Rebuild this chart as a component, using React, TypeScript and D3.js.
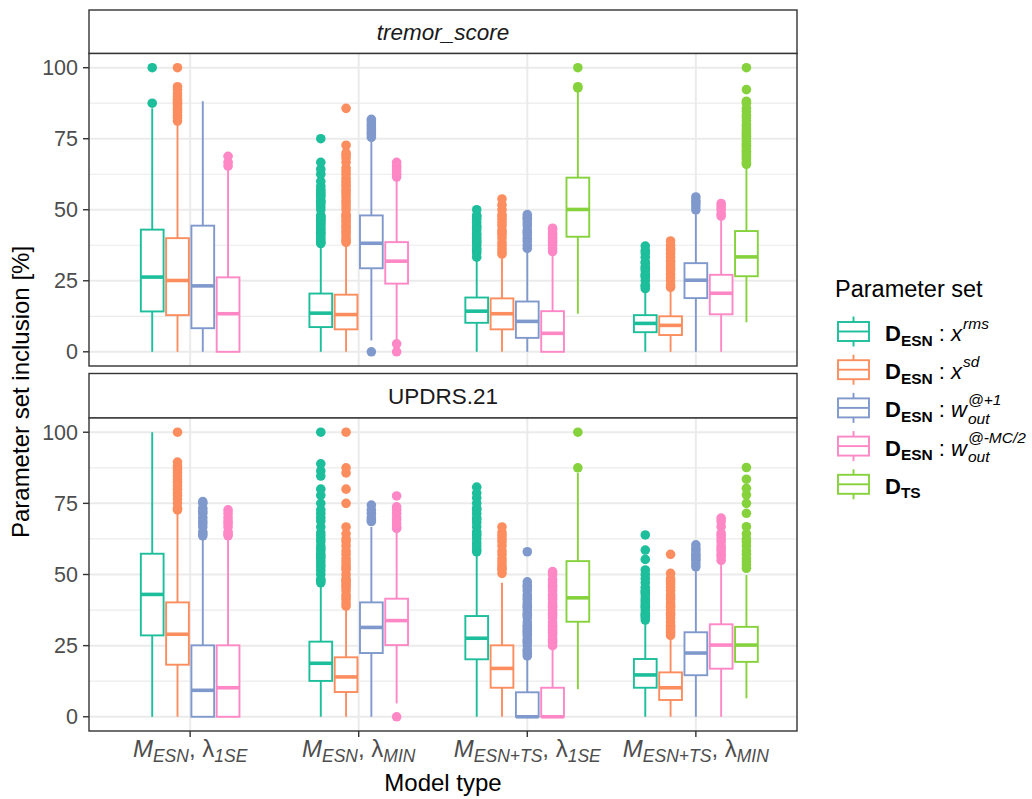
import React from "react";
import * as d3 from "d3";

// ---------- data ----------
const categoryIds = [0, 1, 2, 3];
const categoryLabels = [
  { m: "ESN", l: "1SE" },
  { m: "ESN", l: "MIN" },
  { m: "ESN+TS", l: "1SE" },
  { m: "ESN+TS", l: "MIN" },
];
const seriesColors = ["#1DBE9B", "#FC8D5E", "#8099CC", "#FE87C6", "#86D23D"];
const seriesSup = ["rms", "sd", "@+1", "@-MC/2", ""];
const yMajorTicks = [0, 25, 50, 75, 100];
const yMinorTicks = [12.5, 37.5, 62.5, 87.5];
const panelTitles = ["tremor_score", "UPDRS.21"];

// [category, series, lowWhisker, q1, median, q3, highWhisker]
const tremorStats = [
  [0, 0, 0, 14.2, 26.3, 43.0, 85.7],
  [0, 1, 0, 12.9, 25.1, 40.0, 80.0],
  [0, 2, 0, 8.3, 23.2, 44.4, 88.2],
  [0, 3, 0, 0, 13.4, 26.2, 64.3],
  [1, 0, 0, 8.7, 13.6, 20.5, 37.5],
  [1, 1, 0, 7.9, 13.1, 20.1, 38.0],
  [1, 2, 4.0, 29.4, 38.2, 48.0, 74.7],
  [1, 3, 4.3, 24.0, 31.9, 38.6, 60.5],
  [2, 0, 0, 10.2, 14.3, 19.1, 32.5],
  [2, 1, 0, 7.9, 13.4, 18.8, 33.3],
  [2, 2, 0, 4.9, 10.7, 17.7, 35.0],
  [2, 3, 0, 0, 6.5, 14.3, 34.3],
  [2, 4, 13.4, 40.5, 50.1, 61.3, 92.3],
  [3, 0, 0, 6.9, 10.0, 12.9, 21.4],
  [3, 1, 0, 5.9, 9.3, 12.5, 22.2],
  [3, 2, 0, 18.9, 25.2, 31.2, 49.5],
  [3, 3, 0, 13.2, 20.6, 27.1, 47.4],
  [3, 4, 10.4, 26.6, 33.4, 42.5, 65.5],
];
const tremorOutliers = [
  [87.5, 100],
  [81.2, 82.4, 83.3, 84.2, 85.0, 85.7, 86.7, 87.5, 88.2, 88.9, 90.0, 90.9, 92.3, 93.3, 100],
  [],
  [65.4, 66.7, 68.8],
  [38.1, 38.5, 39.1, 40, 40.9, 41.7, 42.1, 42.9, 43.5, 44.4, 45, 45.5, 46.2, 46.7, 47.1, 47.6, 48, 50, 51.1, 52.2, 52.9, 53.3, 54.5, 55, 55.6, 56.3, 57.1, 58.3, 60, 62.5, 64.3, 66.7, 75],
  [38.5, 39.1, 40, 41.2, 42.1, 42.9, 43.8, 44.4, 45.5, 46.2, 47.1, 47.8, 48.4, 50, 51.3, 52.4, 53.3, 54.5, 55.6, 56.3, 57.1, 58.3, 59.1, 60, 61.1, 62.5, 63.6, 64.7, 66.7, 68.2, 69.2, 70, 72.7, 85.7],
  [0, 75.5, 76.5, 77.3, 78.3, 79.2, 80, 81, 81.8],
  [0, 2.8, 61.5, 62.5, 63.6, 64.7, 65.5, 66.7],
  [33.3, 34.8, 35.7, 36.4, 37.5, 38.5, 39.1, 40, 40.9, 41.7, 42.9, 43.8, 44.4, 45.5, 46.7, 47.6, 48, 50],
  [34.4, 35.3, 36.4, 37.5, 38.5, 40, 41.2, 42.1, 42.9, 44.4, 45.5, 46.7, 47.6, 48.3, 50, 51.7, 53.8],
  [36.4, 37.5, 38.9, 40, 41.2, 42.1, 42.9, 44.4, 45.5, 46.7, 47.4, 48.3],
  [35.3, 36.4, 37.5, 38.5, 39.1, 40, 40.9, 41.7, 42.9, 43.5],
  [92.9, 93.3, 100],
  [22.2, 23.1, 23.5, 25, 26.3, 26.7, 27.3, 28.6, 29.4, 30, 31.3, 31.6, 33.3, 34.8, 35.7, 37.2],
  [22.7, 23.5, 25, 26.1, 27.3, 28.6, 29.4, 30.4, 31.6, 32.1, 33.3, 34.6, 35.7, 36.4, 37.5, 39.0],
  [50, 51.3, 52.4, 53.3, 54.5],
  [47.8, 48.5, 50, 51.1, 52.2],
  [66.0, 66.7, 67.6, 68.4, 69.2, 70, 70.6, 71.4, 72.2, 72.7, 73.3, 74.1, 75, 75.9, 76.5, 77.3, 78.3, 79.2, 80, 81.3, 82.4, 83.3, 84.6, 85.7, 87.5, 88.2, 92.3, 100],
];

const updrsStats = [
  [0, 0, 0, 28.6, 43.0, 57.3, 100],
  [0, 1, 0, 18.3, 29.0, 40.2, 72.2],
  [0, 2, 0, 0, 9.3, 25.1, 62.5],
  [0, 3, 0, 0, 10.2, 25.1, 62.5],
  [1, 0, 0, 12.6, 18.8, 26.4, 46.7],
  [1, 1, 0, 8.7, 14.0, 20.9, 38.5],
  [1, 2, 0, 22.4, 31.4, 40.2, 66.7],
  [1, 3, 4.7, 25.2, 33.8, 41.5, 65.5],
  [2, 0, 0, 20.2, 27.6, 35.4, 57.1],
  [2, 1, 0, 10.2, 17.0, 25.1, 47.1],
  [2, 2, 0, 0, 0, 8.6, 20.0],
  [2, 3, 0, 0, 0, 10.2, 24.0],
  [2, 4, 9.7, 33.4, 41.8, 54.7, 85.7],
  [3, 0, 0, 10.2, 14.7, 20.3, 33.3],
  [3, 1, 0, 5.9, 10.2, 15.6, 28.0],
  [3, 2, 0, 14.6, 22.4, 29.7, 51.5],
  [3, 3, 0, 16.9, 25.2, 32.5, 54.0],
  [3, 4, 6.5, 19.3, 25.2, 31.6, 49.8],
];
const updrsOutliers = [
  [],
  [72.7, 73.3, 75, 76.5, 77.8, 78.6, 80, 81.3, 82.4, 83.3, 84.6, 85.7, 86.7, 87.5, 88.2, 89.5, 100],
  [63.6, 64.3, 65, 66.7, 67.9, 68.8, 70, 71.4, 72.2, 73.3, 75, 75.6],
  [63.6, 64.3, 65, 66.7, 67.9, 68.8, 70, 71.4, 72.7],
  [47.1, 47.8, 48.3, 50, 51.4, 52.6, 53.3, 54.5, 55.6, 56.3, 57.1, 58.3, 59.1, 60, 61.5, 62.5, 63.6, 64.7, 66.7, 68.8, 70, 71.4, 72.7, 75, 77.8, 80, 84.6, 86.4, 88.9, 100],
  [38.9, 40, 41.2, 42.1, 42.9, 44.4, 45.5, 46.2, 47.1, 47.8, 48.5, 50, 51.7, 52.4, 53.3, 54.5, 55.6, 57.1, 58.3, 60, 61.5, 62.5, 64.3, 66.7, 75, 80, 85.7, 87.5, 100],
  [68.6, 69.2, 70, 71.4, 72.7, 74.4],
  [0, 66.2, 66.7, 67.9, 69.2, 70, 71.4, 72.7, 73.8, 77.6],
  [58.0, 58.8, 60, 61.1, 62.5, 63.6, 64.3, 65, 66.7, 68.2, 69.2, 70, 71.4, 72.7, 73.3, 75, 76.9, 78.6, 80.7],
  [50.4, 51.7, 52.4, 53.3, 54.5, 55.6, 57.1, 58.3, 60, 61.5, 62.5, 63.6, 64.7, 66.7],
  [21.4, 22.2, 23.1, 23.5, 25, 26.1, 26.7, 27.3, 28.6, 29.4, 30, 30.8, 31.6, 32.1, 33.3, 34.8, 35.7, 36.4, 37.5, 38.5, 39.1, 40, 41.2, 42.1, 42.9, 44.4, 45.5, 46.2, 47.4, 58.0],
  [25, 26.1, 26.7, 27.3, 28.6, 29.4, 30, 30.8, 31.6, 32.1, 33.3, 34.8, 35.7, 36.4, 37.5, 38.5, 39.1, 40, 41.2, 42.1, 42.9, 44.4, 45.5, 46.2, 47.4, 48.3, 50, 51.0],
  [87.5, 100],
  [34.0, 35.0, 35.7, 36.4, 37.5, 38.5, 39.1, 40, 40.9, 41.7, 42.9, 43.8, 44.4, 45.5, 47.1, 48.5, 50, 51.6, 55.3, 58.6, 63.9],
  [28.6, 29.4, 30, 30.8, 31.6, 32.1, 33.3, 34.6, 35.7, 36.4, 37.5, 38.5, 39.1, 40, 41.2, 42.1, 42.9, 44.4, 45.5, 46.7, 47.6, 48.5, 50.4, 57.1],
  [52.7, 53.8, 55, 55.6, 56.5, 57.1, 58.3, 59.1, 60.4],
  [55, 56.3, 57.1, 58.3, 59.1, 60, 61.5, 62.5, 63.6, 64.5, 66.8, 68.6, 69.8],
  [52.2, 53.3, 54.5, 55.6, 57.1, 58.3, 60, 61.5, 62.5, 64.3, 66.8, 71.5, 75, 78, 80.3, 83.5, 87.6],
];

// ---------- layout ----------
const FONT = '"Liberation Sans", Arial, Helvetica, sans-serif';
const PL = 89;
const PR = 797;
const panelGeom = [
  { stripTop: 10, top: 53.5, bottom: 366 },
  { stripTop: 373.5, top: 418, bottom: 731 },
];

let _ctx: CanvasRenderingContext2D | null = null;
function tw(text: string, size: number, weight = "normal", style = "normal") {
  if (!_ctx) _ctx = document.createElement("canvas").getContext("2d");
  if (!_ctx) return text.length * size * 0.55;
  _ctx.font = `${style} ${weight} ${size}px "Liberation Sans"`;
  return _ctx.measureText(text).width;
}

function Panel({ idx, stats, outliers }: { idx: number; stats: number[][]; outliers: number[][] }) {
  const g = panelGeom[idx];
  const x = d3.scalePoint<number>().domain(categoryIds).range([PL, PR]).padding(0.6);
  const y = d3.scaleLinear().domain([-5, 105]).range([g.bottom, g.top]);
  const step = x.step();
  const slot = (step * 0.75) / 5;
  const bw = slot * 0.9;
  const counts = categoryIds.map((c) => stats.filter((r) => r[0] === c).length);
  const lw = 1.9;
  return (
    <g>
      {/* strip */}
      <rect x={PL} y={g.stripTop} width={PR - PL} height={g.top - g.stripTop} fill="#fff" stroke="#333" strokeWidth={1.4} />
      <text
        x={(PL + PR) / 2}
        y={(g.stripTop + g.top) / 2 + 8}
        textAnchor="middle"
        fontSize={22.5}
        fontStyle={idx === 0 ? "italic" : "normal"}
        fill="#1A1A1A"
      >
        {panelTitles[idx]}
      </text>
      {/* panel bg */}
      <rect x={PL} y={g.top} width={PR - PL} height={g.bottom - g.top} fill="#fff" />
      {yMinorTicks.map((t) => (
        <line key={"mi" + t} x1={PL} x2={PR} y1={y(t)} y2={y(t)} stroke="#EBEBEB" strokeWidth={1.2} />
      ))}
      {yMajorTicks.map((t) => (
        <line key={"ma" + t} x1={PL} x2={PR} y1={y(t)} y2={y(t)} stroke="#EBEBEB" strokeWidth={2} />
      ))}
      {categoryIds.map((c) => (
        <line key={"v" + c} x1={x(c)} x2={x(c)} y1={g.top} y2={g.bottom} stroke="#EBEBEB" strokeWidth={2} />
      ))}
      {/* boxes */}
      {stats.map((r, i) => {
        const [c, s, lo, q1, med, q3, hi] = r;
        const within = stats.filter((rr) => rr[0] === c).indexOf(r);
        const cx = (x(c) as number) + (within - (counts[c] - 1) / 2) * slot;
        const col = seriesColors[s];
        return (
          <g key={"b" + i}>
            {outliers[i].map((v, k) => (
              <circle key={k} cx={cx} cy={y(v)} r={4.8} fill={col} />
            ))}
            <line x1={cx} x2={cx} y1={y(hi)} y2={y(q3)} stroke={col} strokeWidth={lw} />
            <line x1={cx} x2={cx} y1={y(q1)} y2={y(lo)} stroke={col} strokeWidth={lw} />
            <rect x={cx - bw / 2} y={y(q3)} width={bw} height={Math.max(0, y(q1) - y(q3))} fill="#fff" stroke={col} strokeWidth={lw} />
            <line x1={cx - bw / 2} x2={cx + bw / 2} y1={y(med)} y2={y(med)} stroke={col} strokeWidth={3.6} />
          </g>
        );
      })}
      <rect x={PL} y={g.top} width={PR - PL} height={g.bottom - g.top} fill="none" stroke="#333" strokeWidth={1.4} />
      {/* y axis */}
      {yMajorTicks.map((t) => (
        <g key={"yt" + t}>
          <line x1={PL - 6} x2={PL} y1={y(t)} y2={y(t)} stroke="#333" strokeWidth={1.4} />
          <text x={PL - 11} y={y(t) + 7.5} textAnchor="end" fontSize={21.5} fill="#4D4D4D">
            {t}
          </text>
        </g>
      ))}
      {idx === 1 &&
        categoryIds.map((c) => {
          const lab = categoryLabels[c];
          return (
            <g key={"xt" + c}>
              <line x1={x(c)} x2={x(c)} y1={g.bottom} y2={g.bottom + 6} stroke="#333" strokeWidth={1.4} />
              <text x={x(c)} y={757} textAnchor="middle" fontSize={24} fill="#4D4D4D">
                <tspan fontStyle="italic">M</tspan>
                <tspan fontStyle="italic" fontSize={17.5} dy={5}>
                  {lab.m}
                </tspan>
                <tspan dy={-5}>{", λ"}</tspan>
                <tspan fontStyle="italic" fontSize={17.5} dy={5}>
                  {lab.l}
                </tspan>
              </text>
            </g>
          );
        })}
    </g>
  );
}

function LegendLabel({ s, y0 }: { s: number; y0: number }) {
  const x0 = 885;
  const base = y0 + 9.5;
  const big = 22;
  const small = 15.5;
  const wD = tw("D", big, "bold");
  const sub = s === 4 ? "TS" : "ESN";
  const wSub = tw(sub, small, "bold");
  const parts: React.ReactNode[] = [];
  parts.push(
    <text key="d" x={x0} y={base} fontSize={big} fontWeight="bold" fill="#000">
      D
    </text>
  );
  parts.push(
    <text key="ds" x={x0 + wD} y={base + 4.5} fontSize={small} fontWeight="bold" fill="#000">
      {sub}
    </text>
  );
  if (s < 4) {
    let cx = x0 + wD + wSub;
    const colonTxt = " : ";
    parts.push(
      <text key="c" x={cx} y={base} fontSize={big} fill="#000" style={{ whiteSpace: "pre" }}>
        {colonTxt}
      </text>
    );
    cx += tw(colonTxt, big);
    const v = s < 2 ? "x" : "w";
    parts.push(
      <text key="v" x={cx} y={base} fontSize={big} fontStyle="italic" fill="#000">
        {v}
      </text>
    );
    cx += tw(v, big, "normal", "italic") + 1;
    parts.push(
      <text key="sup" x={cx} y={base - 12.5} fontSize={small} fontStyle="italic" fill="#000">
        {seriesSup[s]}
      </text>
    );
    if (s >= 2) {
      parts.push(
        <text key="sub" x={cx} y={base + 6.5} fontSize={small} fontStyle="italic" fill="#000">
          out
        </text>
      );
    }
  }
  return <g>{parts}</g>;
}

function Legend() {
  const rows = [0, 1, 2, 3, 4];
  const ry = (i: number) => 331.5 + i * 38.2;
  const kx = 838;
  const kw = 31;
  return (
    <g>
      <text x={835} y={297} fontSize={23.5} fill="#000">
        Parameter set
      </text>
      {rows.map((i) => {
        const cy = ry(i);
        const col = seriesColors[i];
        return (
          <g key={i}>
            <line x1={kx + kw / 2} x2={kx + kw / 2} y1={cy - 15} y2={cy + 15} stroke={col} strokeWidth={1.9} />
            <rect x={kx} y={cy - 9.5} width={kw} height={19} fill="#fff" stroke={col} strokeWidth={1.9} />
            <line x1={kx} x2={kx + kw} y1={cy} y2={cy} stroke={col} strokeWidth={1.9} />
            <LegendLabel s={i} y0={cy} />
          </g>
        );
      })}
    </g>
  );
}

export default function App() {
  return (
    <svg
      width={1032}
      height={799}
      viewBox="0 0 1032 799"
      style={{ position: "absolute", left: 0, top: 0, background: "#fff" }}
      fontFamily={FONT}
    >
      <rect x={0} y={0} width={1032} height={799} fill="#fff" />
      <Panel idx={0} stats={tremorStats} outliers={tremorOutliers} />
      <Panel idx={1} stats={updrsStats} outliers={updrsOutliers} />
      <text transform="translate(29,392) rotate(-90)" textAnchor="middle" fontSize={24} fill="#000">
        Parameter set inclusion [%]
      </text>
      <text x={443} y={791} textAnchor="middle" fontSize={24} fill="#000">
        Model type
      </text>
      <Legend />
    </svg>
  );
}
